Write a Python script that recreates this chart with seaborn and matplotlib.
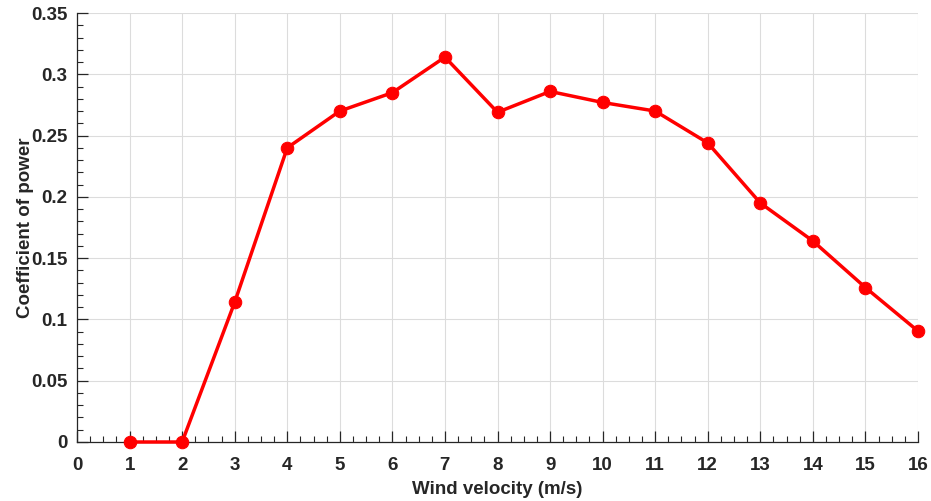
import matplotlib
matplotlib.use("Agg")
import matplotlib.pyplot as plt
import seaborn as sns
import numpy as np
import pandas as pd
from matplotlib.ticker import MultipleLocator

wind = [1, 2, 3, 4, 5, 6, 7, 8, 9, 10, 11, 12, 13, 14, 15, 16]
cp = [0.0, 0.0, 0.114, 0.240, 0.270, 0.285, 0.314, 0.269, 0.286, 0.277,
      0.270, 0.244, 0.195, 0.164, 0.126, 0.0905]

sns.set_style("white")
plt.rcParams['font.family'] = ['Liberation Sans', 'DejaVu Sans']

df = pd.DataFrame({"wind": wind, "cp": cp})
fig = plt.figure(figsize=(9.31, 5.01), dpi=100)
ax = fig.add_axes([77/931, 1 - 442/501, (918-77)/931, (442-13)/501])

sns.lineplot(data=df, x="wind", y="cp", ax=ax, color="#ff0000", lw=2.5,
             marker="o", markersize=9, markeredgecolor="#ff0000", zorder=3,
             clip_on=False)

ax.set_xlim(0, 16)
ax.set_ylim(0, 0.35)
ax.xaxis.set_major_locator(MultipleLocator(1))
ax.xaxis.set_minor_locator(MultipleLocator(0.25))
ax.yaxis.set_major_locator(MultipleLocator(0.05))
ax.yaxis.set_minor_locator(MultipleLocator(0.01))
ax.set_yticks(np.arange(0, 0.351, 0.05))
ax.set_yticklabels(["0", "0.05", "0.1", "0.15", "0.2", "0.25", "0.3", "0.35"])
ax.grid(True, which="major", color="#dcdcdc", lw=0.8)
for s in ["top", "right"]:
    ax.spines[s].set_visible(False)
for s in ["left", "bottom"]:
    ax.spines[s].set_color("#262626")
    ax.spines[s].set_linewidth(0.9)
ax.tick_params(which="major", direction="in", length=8, width=0.9, color="#262626",
               labelsize=13.5, labelcolor="#262626")
ax.tick_params(axis="x", which="major", pad=11)
ax.tick_params(axis="y", which="major", pad=7)
ax.tick_params(which="minor", direction="in", length=4, width=0.8, color="#262626")
ax.tick_params(axis="both", which="both", left=True, bottom=True)
for lab in ax.get_xticklabels() + ax.get_yticklabels():
    lab.set_fontweight("bold")
ax.set_xlabel("Wind velocity (m/s)", fontsize=13.5, fontweight="bold", color="#262626", labelpad=5)
ax.set_ylabel("Coefficient of power", fontsize=13.5, fontweight="bold", color="#262626", labelpad=-2)

fig.savefig("out.png", dpi=100)
